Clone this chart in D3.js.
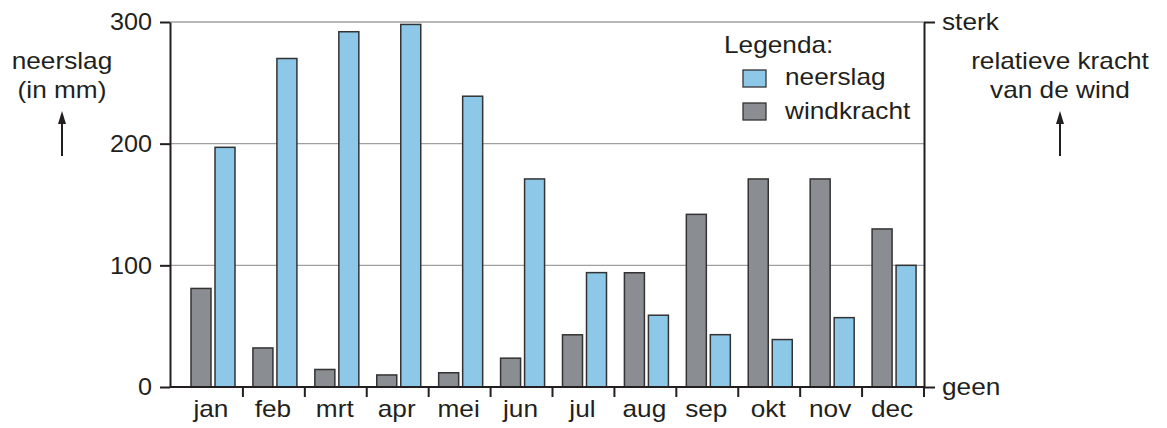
<!DOCTYPE html>
<html>
<head>
<meta charset="utf-8">
<script src="https://cdn.jsdelivr.net/npm/d3@7"></script>
<style>
  body { margin: 0; background: #fff; }
  text { font-family: "Liberation Sans", Arial, sans-serif; fill: #231f20; }
</style>
</head>
<body>
<div id="chart"></div>
<script>
// maanden en waarden
const months = ["jan", "feb", "mrt", "apr", "mei", "jun", "jul", "aug", "sep", "okt", "nov", "dec"];
const neerslag = [197, 270, 292, 298, 239, 171, 94, 59, 43, 39, 57, 100];
// relatieve windkracht, 0 = geen, 100 = sterk
const windkracht = [27, 10.7, 4.8, 3.3, 3.9, 7.9, 14.3, 31.3, 47.3, 57, 57, 43.3];
const rainTicks = [0, 100, 200, 300];
const windTicks = [0, 100];
const windTickLabels = ["geen", "sterk"];

const W = 1167, H = 428;
const axisLeft = 170, axisRight = 924, plotTop = 22, plotBottom = 387;
const stretch = 1.14; // the original lettering is a bit wider than Arial
const fs = 23;

const svg = d3.select("#chart").append("svg")
  .attr("width", W).attr("height", H);

// text helper, widened horizontally around its anchor point
function label(parent, tx, ty, txt, anchor) {
  return parent.append("text")
    .attr("transform", `translate(${tx},${ty}) scale(${stretch},1)`)
    .attr("text-anchor", anchor || "start")
    .attr("font-size", fs)
    .text(txt);
}

const x = d3.scaleBand().domain(months).range([181, axisRight]);
const y = d3.scaleLinear().domain([0, 300]).range([plotBottom, plotTop]);
const yWind = d3.scaleLinear().domain([0, 100]).range([plotBottom, plotTop]);

// gridlines
svg.append("g")
  .selectAll("line")
  .data(rainTicks.filter(d => d > 0))
  .enter().append("line")
  .attr("x1", axisLeft).attr("x2", axisRight)
  .attr("y1", d => y(d)).attr("y2", d => y(d))
  .attr("stroke", "#a0a0a0").attr("stroke-width", 1.3);

// bars
const barW = 20;
const gW = svg.append("g");
gW.selectAll("rect")
  .data(windkracht)
  .enter().append("rect")
  .attr("x", (d, i) => x(months[i]) + 10)
  .attr("y", d => yWind(d))
  .attr("width", barW)
  .attr("height", d => plotBottom - yWind(d))
  .attr("fill", "#8a8d91").attr("stroke", "#333").attr("stroke-width", 1.5);

const gR = svg.append("g");
gR.selectAll("rect")
  .data(neerslag)
  .enter().append("rect")
  .attr("x", (d, i) => x(months[i]) + 34)
  .attr("y", d => y(d))
  .attr("width", barW)
  .attr("height", d => plotBottom - y(d))
  .attr("fill", "#8dc8e8").attr("stroke", "#333").attr("stroke-width", 1.5);

// left axis
const la = svg.append("g").attr("transform", `translate(${axisLeft},0)`)
  .call(d3.axisLeft(y).tickValues(rainTicks).tickSize(10).tickPadding(6).tickSizeOuter(0));
la.select(".domain").attr("stroke", "#231f20").attr("stroke-width", 2);
la.selectAll(".tick line").attr("stroke", "#231f20").attr("stroke-width", 2);
la.selectAll(".tick text")
  .attr("x", null)
  .attr("transform", `translate(-18,0) scale(1.05,1)`)
  .attr("font-size", 24).attr("font-family", "Liberation Sans, Arial, sans-serif").attr("fill", "#231f20");

// right axis
const ra = svg.append("g").attr("transform", `translate(${axisRight},0)`)
  .call(d3.axisRight(yWind).tickValues(windTicks).tickFormat((d, i) => windTickLabels[i]).tickSize(11).tickPadding(6).tickSizeOuter(0));
ra.select(".domain").attr("stroke", "#231f20").attr("stroke-width", 2);
ra.selectAll(".tick line").attr("stroke", "#231f20").attr("stroke-width", 2);
ra.selectAll(".tick text")
  .attr("x", null)
  .attr("transform", `translate(18,0) scale(${stretch},1)`)
  .attr("font-size", fs).attr("font-family", "Liberation Sans, Arial, sans-serif").attr("fill", "#231f20");
svg.append("line")
  .attr("x1", axisRight).attr("x2", axisRight)
  .attr("y1", plotBottom).attr("y2", plotBottom + 10)
  .attr("stroke", "#231f20").attr("stroke-width", 2);

// bottom axis
svg.append("line")
  .attr("x1", axisLeft).attr("x2", axisRight)
  .attr("y1", plotBottom).attr("y2", plotBottom)
  .attr("stroke", "#231f20").attr("stroke-width", 2);
svg.append("g").selectAll("line")
  .data(months.slice(1))
  .enter().append("line")
  .attr("x1", d => x(d)).attr("x2", d => x(d))
  .attr("y1", plotBottom).attr("y2", plotBottom + 10)
  .attr("stroke", "#231f20").attr("stroke-width", 2);
const monthG = svg.append("g");
months.forEach(m => label(monthG, x(m) + x.bandwidth() / 2 - 1, 417, m, "middle"));

// axis titles
const titles = svg.append("g");
label(titles, 62, 69, "neerslag", "middle");
label(titles, 62, 98, "(in mm)", "middle");
label(titles, 1060, 69, "relatieve kracht", "middle");
label(titles, 1060, 98, "van de wind", "middle");

function arrow(cx) {
  svg.append("line").attr("x1", cx).attr("x2", cx).attr("y1", 156).attr("y2", 122)
    .attr("stroke", "#231f20").attr("stroke-width", 2);
  svg.append("path")
    .attr("d", `M${cx - 4},${124} L${cx},${111} L${cx + 4},${124} Z`)
    .attr("fill", "#231f20");
}
arrow(62);
arrow(1060);

// legend
const lg = svg.append("g");
label(lg, 724, 53, "Legenda:");
const legendItems = [["neerslag", "#8dc8e8"], ["windkracht", "#8a8d91"]];
legendItems.forEach((it, i) => {
  lg.append("rect").attr("x", 743).attr("y", 70 + i * 33).attr("width", 23).attr("height", 17)
    .attr("fill", it[1]).attr("stroke", "#333").attr("stroke-width", 1.3);
  label(lg, 785, 85 + i * 34, it[0]);
});
</script>
</body>
</html>
